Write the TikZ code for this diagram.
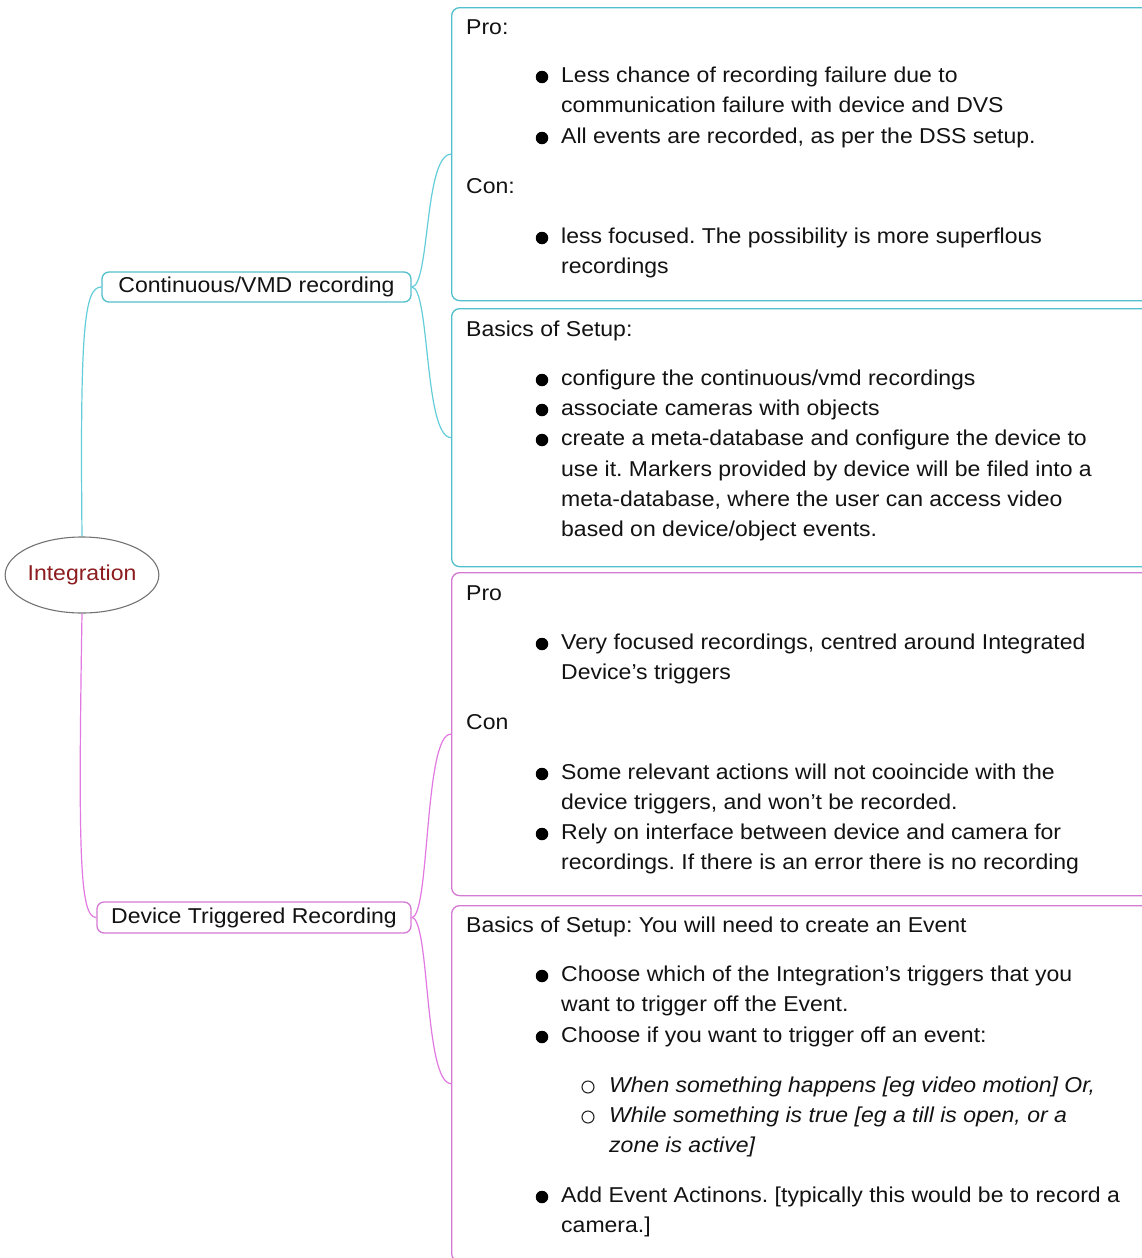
\documentclass[tikz,border=0pt]{standalone}
\usepackage{fontspec}
\setmainfont{Liberation Sans}[FakeStretch=1.07]
\usetikzlibrary{shapes.geometric}
\definecolor{cyanc}{RGB}{82,192,204}
\definecolor{cyanl}{RGB}{100,205,218}
\definecolor{pinkc}{RGB}{212,122,212}
\definecolor{pinkl}{RGB}{226,120,226}
\definecolor{txtc}{RGB}{18,18,18}
\definecolor{redt}{RGB}{140,28,30}
\newcommand{\fsz}{\fontsize{21.5}{30}\selectfont\frenchspacing}
\tikzset{
  txt/.style={anchor=base west, inner sep=0pt, font=\fsz, text=txtc},
  itxt/.style={txt, font=\fsz\itshape},
  bul/.style={circle, fill=black, inner sep=0pt, minimum size=12.5pt},
  obul/.style={circle, draw=black!85, line width=1.1pt, inner sep=0pt, minimum size=12pt},
  cframe/.style={draw=cyanc, line width=1.3pt, rounded corners=8pt, anchor=north west, inner sep=0pt},
  pframe/.style={draw=pinkc, line width=1.3pt, rounded corners=8pt, anchor=north west, inner sep=0pt},
  cconn/.style={draw=cyanl, line width=1.2pt},
  pconn/.style={draw=pinkl, line width=1.2pt},
}
\begin{document}
\begin{tikzpicture}[x=1pt,y=-1pt]
\clip (0,0) rectangle (1142,1258);
\fill[white] (0,0) rectangle (1142,1258);

% root
\node[ellipse, draw=black!55, line width=1.1pt, minimum width=146pt, minimum height=76pt, inner sep=0pt,
      font=\fsz, text=redt] (root) at (82,575) {Integration};

% branch nodes
\node[draw=cyanc, line width=1.3pt, rounded corners=7pt, minimum width=309pt, minimum height=30pt,
      inner sep=0pt, font=\fsz, text=txtc] (cont) at (256.5,287) {Continuous/VMD recording};
\node[draw=pinkc, line width=1.3pt, rounded corners=7pt, minimum width=314pt, minimum height=31pt,
      inner sep=0pt, font=\fsz, text=txtc] (dev) at (254,917.5) {Device Triggered Recording};

% leaf frames
\node[cframe, minimum width=760pt, minimum height=293pt] (b1) at (451,7) {};
\node[cframe, minimum width=760pt, minimum height=258pt] (b2) at (451,308) {};
\node[pframe, minimum width=760pt, minimum height=323pt] (b3) at (451,572) {};
\node[pframe, minimum width=760pt, minimum height=356pt] (b4) at (451,905) {};

% connectors
\draw[cconn] (root.north) .. controls (80,330) and (84,287) .. (cont.west);
\draw[pconn] (root.south) .. controls (78,860) and (80,917.5) .. (dev.west);
\draw[cconn] (cont.east) .. controls (430,287) and (424,155) .. (b1.west);
\draw[cconn] (cont.east) .. controls (430,287) and (424,437) .. (b2.west);
\draw[pconn] (dev.east) .. controls (430,917.5) and (424,733) .. (b3.west);
\draw[pconn] (dev.east) .. controls (430,917.5) and (424,1083) .. (b4.west);

% ---- box 1
\node[txt] (t1) at (466,34) {Pro:};
\node[bul] (d1) at (542,77) {};
\node[txt] (t2) at (561,82) {Less chance of recording failure due to};
\node[txt] (t3) at (561,112) {communication failure with device and DVS};
\node[bul] (d2) at (542,138) {};
\node[txt] (t4) at (561,143) {All events are recorded, as per the DSS setup.};
\node[txt] (t5) at (466,193) {Con:};
\node[bul] (d3) at (542,238) {};
\node[txt] (t6) at (561,243) {less focused. The possibility is more superflous};
\node[txt] (t7) at (561,273) {recordings};

% ---- box 2
\node[txt] (t8) at (466,336) {Basics of Setup:};
\node[bul] (d4) at (542,380) {};
\node[txt] (t9) at (561,385) {configure the continuous/vmd recordings};
\node[bul] (d5) at (542,410) {};
\node[txt] (t10) at (561,415) {associate cameras with objects};
\node[bul] (d6) at (542,440) {};
\node[txt] (t11) at (561,445) {create a meta-database and configure the device to};
\node[txt] (t12) at (561,476) {use it. Markers provided by device will be filed into a};
\node[txt] (t13) at (561,506) {meta-database, where the user can access video};
\node[txt] (t14) at (561,536) {based on device/object events.};

% ---- box 3
\node[txt] (t15) at (466,600) {Pro};
\node[bul] (d7) at (542,644) {};
\node[txt] (t16) at (561,649) {Very focused recordings, centred around Integrated};
\node[txt] (t17) at (561,679) {Device's triggers};
\node[txt] (t18) at (466,729) {Con};
\node[bul] (d8) at (542,774) {};
\node[txt] (t19) at (561,779) {Some relevant actions will not cooincide with the};
\node[txt] (t20) at (561,809) {device triggers, and won't be recorded.};
\node[bul] (d9) at (542,834) {};
\node[txt] (t21) at (561,839) {Rely on interface between device and camera for};
\node[txt] (t22) at (561,869) {recordings. If there is an error there is no recording};

% ---- box 4
\node[txt] (t23) at (466,932) {Basics of Setup: You will need to create an Event};
\node[bul] (d10) at (542,976) {};
\node[txt] (t24) at (561,981) {Choose which of the Integration's triggers that you};
\node[txt] (t25) at (561,1011) {want to trigger off the Event.};
\node[bul] (d11) at (542,1037) {};
\node[txt] (t26) at (561,1042) {Choose if you want to trigger off an event:};
\node[obul] (o1) at (588,1087) {};
\node[itxt] (t27) at (609,1092) {When something happens [eg video motion] Or,};
\node[obul] (o2) at (588,1117) {};
\node[itxt] (t28) at (609,1122) {While something is true [eg a till is open, or a};
\node[itxt] (t29) at (609,1152) {zone is active]};
\node[bul] (d12) at (542,1197) {};
\node[txt] (t30) at (561,1202) {Add Event Actinons. [typically this would be to record a};
\node[txt] (t31) at (561,1232) {camera.]};
\end{tikzpicture}
\end{document}
